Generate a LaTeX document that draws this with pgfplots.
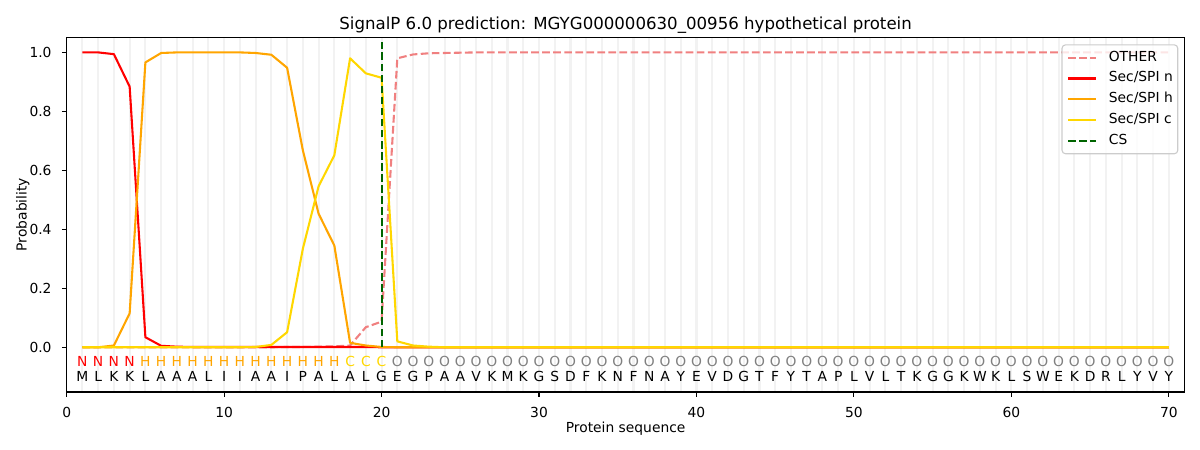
\documentclass[border=0pt]{standalone}
\usepackage{fontspec}
\setmainfont{DejaVu Sans}
\usepackage{pgfplots}
\pgfplotsset{compat=1.18}
\definecolor{cother}{HTML}{F08080}
\definecolor{cn}{HTML}{FF0000}
\definecolor{ch}{HTML}{FFA500}
\definecolor{cc}{HTML}{FFD700}
\definecolor{ccs}{HTML}{006400}
\definecolor{cgrid}{HTML}{F2F2F2}
\definecolor{cO}{HTML}{808080}
\definecolor{cframe}{HTML}{CCCCCC}
\newcommand{\tf}{\fontsize{10}{12}\selectfont}
\begin{document}
\begin{tikzpicture}
\useasboundingbox (-48bp,-41.8bp) rectangle (816bp,282.2bp);
\begin{axis}[
  scale only axis, width=804.9bp, height=255.3bp,
  xmin=0, xmax=71, ymin=-0.1515, ymax=1.051,
  xtick={0,10,20,30,40,50,60,70},
  ytick={0,0.2,0.4,0.6,0.8,1.0},
  minor xtick={1,...,70},
  xminorgrids,
  minor grid style={cgrid, line width=1.5bp},
  minor tick length=0pt,
  yticklabel style={/pgf/number format/fixed,/pgf/number format/fixed zerofill,/pgf/number format/precision=1},
  /pgf/number format/assume math mode=true,
  tick align=outside, tick pos=left,
  major tick length=3.5bp,
  every tick/.style={black, line width=0.8bp},
  every minor tick/.style={draw=none},
  axis line style={black, line width=0.8bp},
  xticklabel style={font=\tf, inner sep=0pt, anchor=north, yshift=-7.2bp},
  yticklabel style={font=\tf, inner sep=0pt, anchor=east, xshift=-7.2bp},
  xlabel={Protein sequence},
  ylabel={Probability},
  every axis x label/.style={at={(axis description cs:0.5,0)}, anchor=base, yshift=-29bp, font=\tf},
  every axis y label/.style={at={(axis description cs:0,0.5)}, xshift=-28.8bp, rotate=90, anchor=base, font=\tf},
  title={SignalP 6.0 prediction: MGYG000000630\_00956 hypothetical protein},
  every axis title/.style={at={(axis description cs:0.5,1)}, anchor=base, yshift=6bp, font=\fontsize{12}{14}\selectfont},
  legend cell align=left,
  legend image code/.code={\draw[line width=1.5bp,#1] (0bp,0bp) -- (20bp,0bp);},
  legend style={at={(axis description cs:1,1)}, anchor=north east, xshift=-4.5bp, yshift=-5bp,
    draw=cframe, line width=0.8bp, rounded corners=2.5bp, fill=white, fill opacity=0.8, draw opacity=1, text opacity=1,
    font=\tf, inner xsep=3.6bp, inner ysep=4.2bp, row sep=5bp,
    nodes={inner sep=0pt, text height=7.5bp, text depth=2.5bp},
    /tikz/every odd column/.append style={column sep=8.6bp}},
  clip=false,
]
\addplot[cother, line width=1.5bp, dash pattern=on 5.55bp off 2.4bp, line join=round] coordinates {
(1,0.0)(2,0.0)(3,0.0)(4,0.0)(5,0.0)(6,0.0)(7,0.0)(8,0.0)(9,0.0)(10,0.0)
(11,0.0)(12,0.0)(13,0.0)(14,0.001)(15,0.001)(16,0.002)(17,0.003)(18,0.006)(19,0.068)(20,0.087)
(21,0.980)(22,0.993)(23,0.997)(24,0.998)(25,0.999)(26,1.0)(27,1.0)(28,1.0)(29,1.0)(30,1.0)
(31,1.0)(32,1.0)(33,1.0)(34,1.0)(35,1.0)(36,1.0)(37,1.0)(38,1.0)(39,1.0)(40,1.0)
(41,1.0)(42,1.0)(43,1.0)(44,1.0)(45,1.0)(46,1.0)(47,1.0)(48,1.0)(49,1.0)(50,1.0)
(51,1.0)(52,1.0)(53,1.0)(54,1.0)(55,1.0)(56,1.0)(57,1.0)(58,1.0)(59,1.0)(60,1.0)
(61,1.0)(62,1.0)(63,1.0)(64,1.0)(65,1.0)(66,1.0)(67,1.0)(68,1.0)(69,1.0)(70,1.0)};
\addlegendentry{OTHER}
\addplot[cn, line width=1.5bp, line join=round] coordinates {
(1,1.0)(2,1.0)(3,0.994)(4,0.884)(5,0.034)(6,0.005)(7,0.002)(8,0.001)(9,0.001)(10,0.001)
(11,0.001)(12,0.001)(13,0.001)(14,0.001)(15,0.001)(16,0.001)(17,0.001)(18,0.001)(19,0.001)(20,0.0)
(21,0.0)(22,0.0)(23,0.0)(24,0.0)(25,0.0)(26,0.0)(27,0.0)(28,0.0)(29,0.0)(30,0.0)
(31,0.0)(32,0.0)(33,0.0)(34,0.0)(35,0.0)(36,0.0)(37,0.0)(38,0.0)(39,0.0)(40,0.0)
(41,0.0)(42,0.0)(43,0.0)(44,0.0)(45,0.0)(46,0.0)(47,0.0)(48,0.0)(49,0.0)(50,0.0)
(51,0.0)(52,0.0)(53,0.0)(54,0.0)(55,0.0)(56,0.0)(57,0.0)(58,0.0)(59,0.0)(60,0.0)
(61,0.0)(62,0.0)(63,0.0)(64,0.0)(65,0.0)(66,0.0)(67,0.0)(68,0.0)(69,0.0)(70,0.0)};
\addlegendentry{Sec/SPI n}
\addplot[ch, line width=1.5bp, line join=round] coordinates {
(1,0.0)(2,0.0)(3,0.006)(4,0.115)(5,0.966)(6,0.998)(7,1.0)(8,1.0)(9,1.0)(10,1.0)
(11,1.0)(12,0.998)(13,0.992)(14,0.948)(15,0.668)(16,0.453)(17,0.345)(18,0.015)(19,0.006)(20,0.001)
(21,0.0)(22,0.0)(23,0.0)(24,0.0)(25,0.0)(26,0.0)(27,0.0)(28,0.0)(29,0.0)(30,0.0)
(31,0.0)(32,0.0)(33,0.0)(34,0.0)(35,0.0)(36,0.0)(37,0.0)(38,0.0)(39,0.0)(40,0.0)
(41,0.0)(42,0.0)(43,0.0)(44,0.0)(45,0.0)(46,0.0)(47,0.0)(48,0.0)(49,0.0)(50,0.0)
(51,0.0)(52,0.0)(53,0.0)(54,0.0)(55,0.0)(56,0.0)(57,0.0)(58,0.0)(59,0.0)(60,0.0)
(61,0.0)(62,0.0)(63,0.0)(64,0.0)(65,0.0)(66,0.0)(67,0.0)(68,0.0)(69,0.0)(70,0.0)};
\addlegendentry{Sec/SPI h}
\addplot[cc, line width=1.5bp, line join=round] coordinates {
(1,0.0)(2,0.0)(3,0.0)(4,0.0)(5,0.0)(6,0.0)(7,0.0)(8,0.0)(9,0.0)(10,0.0)
(11,0.0)(12,0.001)(13,0.008)(14,0.051)(15,0.334)(16,0.546)(17,0.651)(18,0.980)(19,0.929)(20,0.914)
(21,0.020)(22,0.006)(23,0.002)(24,0.0)(25,0.0)(26,0.0)(27,0.0)(28,0.0)(29,0.0)(30,0.0)
(31,0.0)(32,0.0)(33,0.0)(34,0.0)(35,0.0)(36,0.0)(37,0.0)(38,0.0)(39,0.0)(40,0.0)
(41,0.0)(42,0.0)(43,0.0)(44,0.0)(45,0.0)(46,0.0)(47,0.0)(48,0.0)(49,0.0)(50,0.0)
(51,0.0)(52,0.0)(53,0.0)(54,0.0)(55,0.0)(56,0.0)(57,0.0)(58,0.0)(59,0.0)(60,0.0)
(61,0.0)(62,0.0)(63,0.0)(64,0.0)(65,0.0)(66,0.0)(67,0.0)(68,0.0)(69,0.0)(70,0.0)};
\addlegendentry{Sec/SPI c}
\addplot[ccs, line width=1.5bp, dash pattern=on 5.55bp off 2.4bp] coordinates {(20,0) (20,1.036)};
\addlegendentry{CS}
\foreach \i in {1,...,4}{\edef\tmp{\noexpand\node[anchor=base, font=\noexpand\tf, text=cn, inner sep=0pt] at (axis cs:\i,-0.0644) {N};}\tmp}
\foreach \i in {5,...,17}{\edef\tmp{\noexpand\node[anchor=base, font=\noexpand\tf, text=ch, inner sep=0pt] at (axis cs:\i,-0.0644) {H};}\tmp}
\foreach \i in {18,...,20}{\edef\tmp{\noexpand\node[anchor=base, font=\noexpand\tf, text=cc, inner sep=0pt] at (axis cs:\i,-0.0644) {C};}\tmp}
\foreach \i in {21,...,70}{\edef\tmp{\noexpand\node[anchor=base, font=\noexpand\tf, text=cO, inner sep=0pt] at (axis cs:\i,-0.0644) {O};}\tmp}
\foreach \s [count=\i] in {M,L,K,K,L,A,A,A,L,I,I,A,A,I,P,A,L,A,L,G,E,G,P,A,A,V,K,M,K,G,S,D,F,K,N,F,N,A,Y,E,V,D,G,T,F,Y,T,A,P,L,V,L,T,K,G,G,K,W,K,L,S,W,E,K,D,R,L,Y,V,Y}{\edef\tmp{\noexpand\node[anchor=base, font=\noexpand\tf, text=black, inner sep=0pt] at (axis cs:\i,-0.1153) {\s};}\tmp}
\end{axis}
\end{tikzpicture}
\end{document}
